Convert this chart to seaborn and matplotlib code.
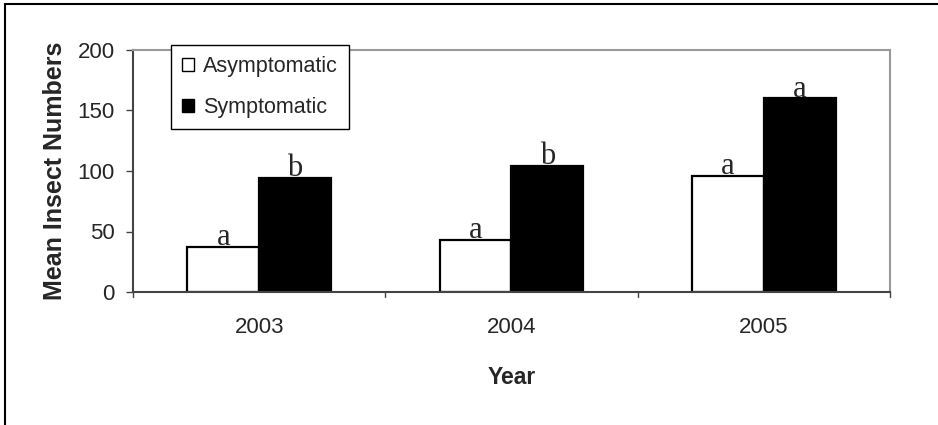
import numpy as np
import pandas as pd
import seaborn as sns
import matplotlib.pyplot as plt
from matplotlib.lines import Line2D
from matplotlib.patches import Patch

# data
years = ["2003", "2004", "2005"]
asymptomatic = [37, 43, 96]
symptomatic = [94, 104, 160]
letters_asym = ["a", "a", "a"]
letters_sym = ["b", "b", "a"]

df = pd.DataFrame({
    "Year": years * 2,
    "Group": ["Asymptomatic"] * 3 + ["Symptomatic"] * 3,
    "Mean": asymptomatic + symptomatic,
})

sns.set_style("white")
plt.rcParams["font.family"] = ["Liberation Sans", "DejaVu Sans"]

fig = plt.figure(figsize=(9.38, 4.25), dpi=100)
ax = fig.add_axes([133 / 938, 1 - 292 / 425, (890 - 133) / 938, (292 - 50) / 425])

sns.barplot(data=df, x="Year", y="Mean", hue="Group",
            palette={"Asymptomatic": "white", "Symptomatic": "black"},
            edgecolor="black", linewidth=1.6, width=0.57, gap=0,
            legend=False, ax=ax)

ax.set_ylim(0, 200)
ax.set_xlim(-0.5, 2.5)
ax.set_yticks([0, 50, 100, 150, 200])
ax.set_xticks([0, 1, 2])
ax.set_xticklabels(years)
ax.tick_params(axis="x", labelsize=16, length=0, pad=18)
ax.tick_params(axis="y", labelsize=16, length=5, width=1, direction="out",
               pad=8, color="#444444", left=True)

# category boundary ticks on x axis
for xb in [-0.5, 0.5, 1.5, 2.5]:
    ax.plot([xb, xb], [0, -4.5], color="#444444", lw=1, clip_on=False)

for s in ["top", "right"]:
    ax.spines[s].set_color("#999999")
    ax.spines[s].set_linewidth(1.5)
for s in ["left", "bottom"]:
    ax.spines[s].set_color("#444444")
    ax.spines[s].set_linewidth(1.5)

ax.set_xlabel("Year", fontsize=16.5, fontweight="bold", labelpad=20)
ax.set_ylabel("Mean Insect Numbers", fontsize=18, fontweight="bold", labelpad=8)

# significance letters
bw = 0.57 / 2
for i in range(3):
    ax.text(i - bw / 2, asymptomatic[i] + 1.5, letters_asym[i], ha="center", va="baseline",
            fontsize=22, family=["Liberation Serif", "DejaVu Serif"])
    ax.text(i + bw / 2, symptomatic[i] + 1.5, letters_sym[i], ha="center", va="baseline",
            fontsize=22, family=["Liberation Serif", "DejaVu Serif"])

handles = [Patch(facecolor="white", edgecolor="black", label="Asymptomatic"),
           Patch(facecolor="black", edgecolor="black", label="Symptomatic")]
leg = ax.legend(handles=handles, loc="upper left",
                bbox_to_anchor=(171 / 938, 1 - 45 / 425), bbox_transform=fig.transFigure,
                borderaxespad=0, fontsize=15.5, frameon=True, fancybox=False,
                edgecolor="black", framealpha=1,
                handlelength=0.55, handleheight=0.55, handletextpad=0.45,
                borderpad=0.5, labelspacing=0.95)
leg.get_frame().set_linewidth(1)

# figure frame (top and left edges)
fig.add_artist(Line2D([5 / 938, 1], [1 - 4 / 425, 1 - 4 / 425], color="black", lw=1.5))
fig.add_artist(Line2D([5 / 938, 5 / 938], [0, 1 - 4 / 425], color="black", lw=1.5))

fig.savefig("out.png", dpi=100)
